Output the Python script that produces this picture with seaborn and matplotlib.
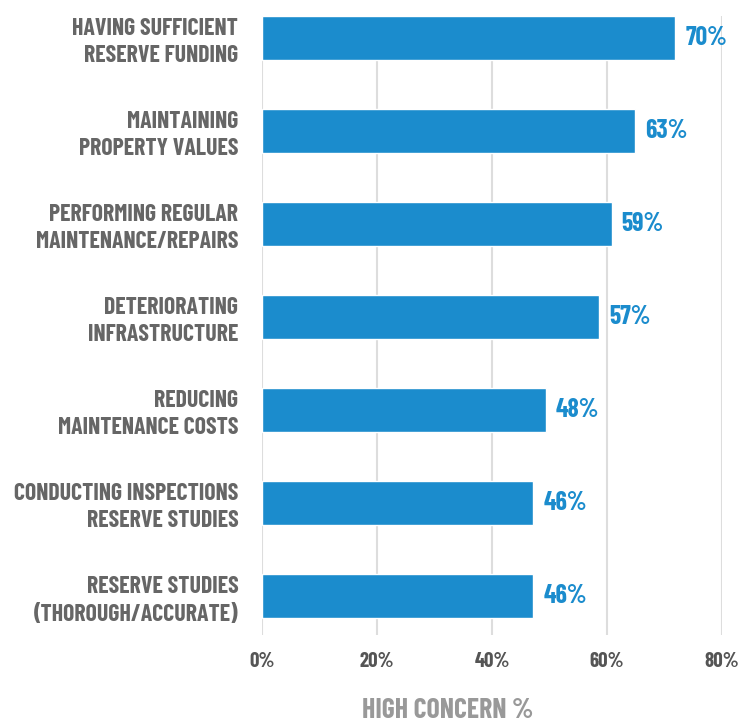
from matplotlib import pyplot as plt
import pandas as pd
import seaborn as sns

categories = [
    "HAVING SUFFICIENT\nRESERVE FUNDING",
    "MAINTAINING\nPROPERTY VALUES",
    "PERFORMING REGULAR\nMAINTENANCE/REPAIRS",
    "DETERIORATING\nINFRASTRUCTURE",
    "REDUCING\nMAINTENANCE COSTS",
    "CONDUCTING INSPECTIONS\nRESERVE STUDIES",
    "RESERVE STUDIES\n(THOROUGH/ACCURATE)",
]
bar_values = [71.9, 64.9, 60.8, 58.7, 49.4, 47.2, 47.2]
value_labels = ["70%", "63%", "59%", "57%", "48%", "46%", "46%"]
ticks = [0, 20, 40, 60, 80]
tick_labels = ["0%", "20%", "40%", "60%", "80%"]

df = pd.DataFrame({"concern": categories, "pct": bar_values})

sns.set_style("white")
plt.rcParams["font.family"] = ["Barlow Condensed", "DejaVu Sans"]
plt.rcParams["font.weight"] = "semibold"

blue = "#1b8ccd"
fig = plt.figure(figsize=(7.47, 7.22), dpi=100)
ax = fig.add_axes([0.3507, 0.1205, 0.6158, 0.8575])

sns.barplot(data=df, x="pct", y="concern", color=blue, saturation=1,
            width=0.47, ax=ax, zorder=3)

# value labels next to the bar ends
for i, (v, lab) in enumerate(zip(bar_values, value_labels)):
    ax.text(v + 1.75, i, lab, color=blue, fontsize=18.5, fontweight="bold",
            va="center", ha="left")

ax.set_xlim(0, 80)
ax.set_ylim(6.42, -0.235)
ax.set_xticks(ticks)
ax.set_xticklabels(tick_labels, fontsize=15, color="#555555", fontweight="bold")
ax.tick_params(axis="y", length=0, pad=17, labelsize=17.2, labelcolor="#666666")
ax.tick_params(axis="x", length=0, pad=12)
for t in ax.get_yticklabels():
    t.set_fontweight("bold")
    t.set_linespacing(1.3)
    t.set_y(t.get_position()[1] - 0.03)
ax.xaxis.grid(True, color="#dddddd", linewidth=1.5, zorder=0)
ax.set_axisbelow(True)
sns.despine(ax=ax, left=True, bottom=True)
ax.set_ylabel("")
ax.set_xlabel("HIGH CONCERN %", fontsize=20, color="#999999", fontweight="bold")
ax.xaxis.set_label_coords(0.404, -0.101)

fig.savefig("out.png", dpi=100)
